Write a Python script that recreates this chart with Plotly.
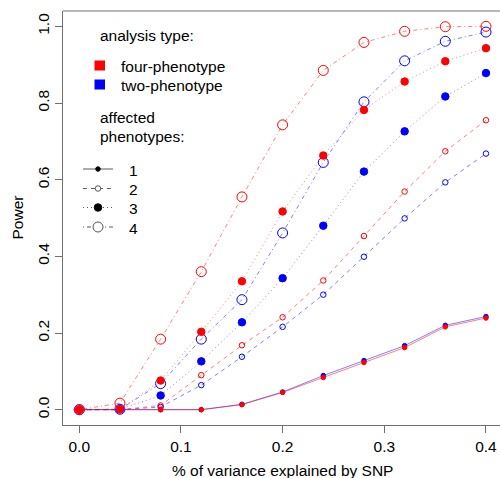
import plotly.graph_objects as go

# ---- data ----
variance = [0.00, 0.04, 0.08, 0.12, 0.16, 0.20, 0.24, 0.28, 0.32, 0.36, 0.40]
four_1 = [0, 0, 0, 0, 0.013, 0.045, 0.084, 0.123, 0.162, 0.216, 0.239]
two_1 = [0, 0, 0, 0, 0.014, 0.046, 0.089, 0.128, 0.167, 0.220, 0.243]
four_2 = [0, 0, 0.011, 0.090, 0.168, 0.241, 0.337, 0.453, 0.569, 0.674, 0.755]
two_2 = [0, 0, 0.007, 0.064, 0.138, 0.216, 0.300, 0.399, 0.499, 0.593, 0.668]
four_3 = [0, 0.001, 0.076, 0.203, 0.335, 0.517, 0.663, 0.782, 0.856, 0.909, 0.943]
two_3 = [0, 0.001, 0.037, 0.126, 0.228, 0.343, 0.480, 0.621, 0.726, 0.817, 0.878]
four_4 = [0, 0.017, 0.184, 0.360, 0.555, 0.743, 0.885, 0.958, 0.987, 0.999, 1.0]
two_4 = [0, 0.001, 0.068, 0.184, 0.287, 0.461, 0.645, 0.803, 0.910, 0.961, 0.985]

x_ticks = [0.0, 0.1, 0.2, 0.3, 0.4]
y_ticks = [0.0, 0.2, 0.4, 0.6, 0.8, 1.0]
type_labels = ["1", "2", "3", "4"]
analysis_labels = ["four-phenotype", "two-phenotype"]

# ---- styles ----
FONT = "Liberation Sans, Arial, sans-serif"
FS = 15.5
RED, BLUE = "#FF0000", "#0000FF"
RED_L, BLUE_L = "rgba(255,0,0,0.5)", "rgba(0,0,255,0.5)"
AXC = "#707070"
dashes = ["solid", "4px,4px", "1px,3px", "1px,3px,4px,3px"]
msym = ["circle", "circle-open", "circle", "circle-open"]
msize = [4.5, 5.5, 7.5, 10]

fig = go.Figure()
series = {
    "two": [two_1, two_2, two_3, two_4],
    "four": [four_1, four_2, four_3, four_4],
}
for key, col, coll in [("two", BLUE, BLUE_L), ("four", RED, RED_L)]:
    for i, ys in enumerate(series[key]):
        fig.add_trace(go.Scatter(
            x=variance, y=ys, mode="lines+markers",
            line=dict(color=coll, width=1, dash=dashes[i]),
            marker=dict(symbol=msym[i], size=msize[i], color=col,
                        line=dict(color=col, width=1)),
            showlegend=False, cliponaxis=False, hoverinfo="skip"))

# plot area in pixels
L, T, R, B = 63, 11, 500, 425
W, H = R - L, B - T
def px(x):
    return (x - L) / W
def py(y):
    return (B - y) / H

shapes = []
annots = []
# top border
shapes.append(dict(type="line", xref="paper", yref="paper", x0=0, x1=1, y0=1, y1=1,
                   line=dict(color=AXC, width=1)))

# legend: analysis type
annots.append(dict(x=px(97.5), y=py(35), xref="paper", yref="paper", text="analysis type:",
                   showarrow=False, xanchor="left", yanchor="middle"))
for lab, col, yc in [(analysis_labels[0], RED, 65.5), (analysis_labels[1], BLUE, 84.5)]:
    shapes.append(dict(type="rect", xref="paper", yref="paper", x0=px(94.5), x1=px(105),
                       y0=py(yc - 5), y1=py(yc + 5), fillcolor=col, line=dict(width=0)))
    annots.append(dict(x=px(118.5), y=py(yc + 1), xref="paper", yref="paper", text=lab,
                       showarrow=False, xanchor="left", yanchor="middle"))
annots.append(dict(x=px(97.5), y=py(117), xref="paper", yref="paper", text="affected",
                   showarrow=False, xanchor="left", yanchor="middle"))
annots.append(dict(x=px(97.5), y=py(136.5), xref="paper", yref="paper", text="phenotypes:",
                   showarrow=False, xanchor="left", yanchor="middle"))
rows = [169, 188.5, 207.5, 227]
for i, yc in enumerate(rows):
    shapes.append(dict(type="line", xref="paper", yref="paper", x0=px(83), x1=px(113),
                       y0=py(yc), y1=py(yc), line=dict(color="rgba(0,0,0,0.65)", width=1, dash=dashes[i])))
    r = msize[i] / 2
    filled = msym[i] == "circle"
    shapes.append(dict(type="circle", xref="paper", yref="paper",
                       x0=px(98 - r), x1=px(98 + r), y0=py(yc - r), y1=py(yc + r),
                       fillcolor="black" if filled else "white",
                       line=dict(color="black" if filled else "#555", width=1)))
    annots.append(dict(x=px(127), y=py(yc + 1), xref="paper", yref="paper", text=type_labels[i],
                       showarrow=False, xanchor="left", yanchor="middle"))

# axis titles
annots.append(dict(x=px(16.5), y=py(218), xref="paper", yref="paper", text="Power",
                   textangle=-90, showarrow=False, xanchor="center", yanchor="middle"))
annots.append(dict(x=px(282.5), y=py(470), xref="paper", yref="paper",
                   text="% of variance explained by SNP",
                   showarrow=False, xanchor="center", yanchor="middle"))

xscale = (486 - 79.3) / 0.4
x0 = -0.016
x1 = x0 + W / xscale

fig.update_layout(
    width=500, height=478,
    margin=dict(l=L, r=500 - R, t=T, b=478 - B, autoexpand=False),
    paper_bgcolor="white", plot_bgcolor="white",
    font=dict(family=FONT, size=FS, color="black"),
    shapes=shapes, annotations=annots,
    xaxis=dict(range=[x0, x1], tickvals=x_ticks, ticktext=[f"{v:.1f}" for v in x_ticks],
               showgrid=False, zeroline=False, showline=True, linecolor=AXC, linewidth=1,
               mirror=False, ticks="outside", ticklen=7, tickcolor=AXC, tickwidth=1,
               tickfont=dict(size=FS), fixedrange=True),
    yaxis=dict(range=[-0.04, 1.04], tickvals=y_ticks, ticktext=[f"{v:.1f}" for v in y_ticks],
               showgrid=False, zeroline=False, showline=True, linecolor=AXC, linewidth=1,
               ticks="outside", ticklen=7, tickcolor=AXC, tickwidth=1, tickangle=-90,
               tickfont=dict(size=FS), fixedrange=True),
    showlegend=False,
)

fig.write_html("out.html")
